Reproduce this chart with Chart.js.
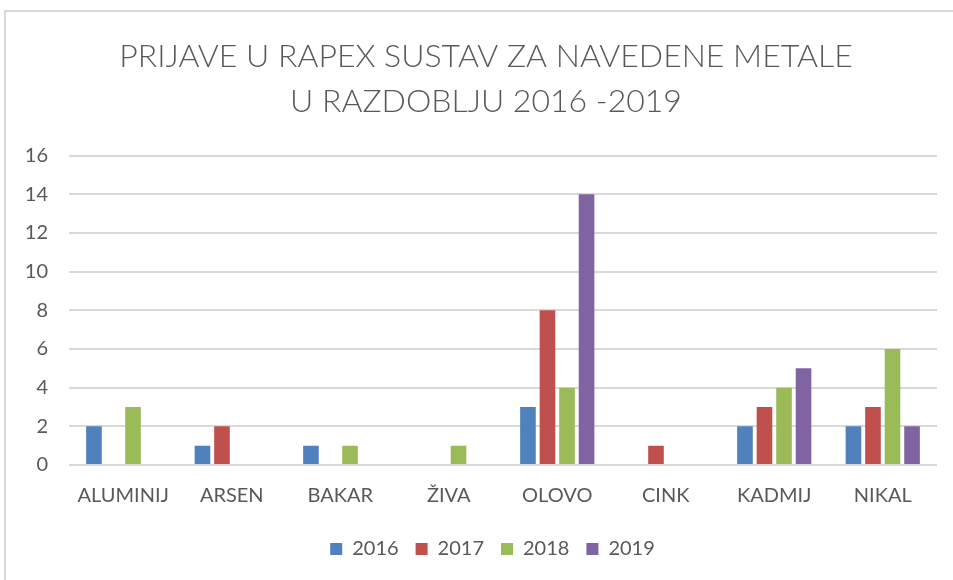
<!DOCTYPE html>
<html>
<head>
<meta charset="utf-8">
<script src="https://cdn.jsdelivr.net/npm/chart.js@4.4.1/dist/chart.umd.min.js"></script>
<style>
  html, body { margin: 0; padding: 0; background: #ffffff; }
  #wrap { position: relative; width: 953px; height: 580px; }
</style>
</head>
<body>
<div id="wrap"><canvas id="c" width="953" height="580"></canvas></div>
<script>
const categories = ['ALUMINIJ', 'ARSEN', 'BAKAR', 'ŽIVA', 'OLOVO', 'CINK', 'KADMIJ', 'NIKAL'];
const seriesNames = ['2016', '2017', '2018', '2019'];
const values2016 = [2, 1, 1, 0, 3, 0, 2, 2];
const values2017 = [0, 2, 0, 0, 8, 1, 3, 3];
const values2018 = [3, 0, 1, 1, 4, 0, 4, 6];
const values2019 = [0, 0, 0, 0, 14, 0, 5, 2];
const yTicks = [0, 2, 4, 6, 8, 10, 12, 14, 16];
const titleLines = ['PRIJAVE U RAPEX SUSTAV ZA NAVEDENE METALE', 'U RAZDOBLJU 2016 -2019'];

const colors = ['#4F81BD', '#C0504D', '#9BBB59', '#8064A2'];
const seriesValues = [values2016, values2017, values2018, values2019];
const FONT = 'Lato, "Open Sans", sans-serif';
const TEXT = '#595959';

const frame = {
  id: 'frame',
  afterLayout(chart) {
    // shift title and legend blocks so they are centred like the original
    if (chart.titleBlock) chart.titleBlock.left += 35;
    if (chart.legend) chart.legend.left += 48;
  },
  beforeDraw(chart) {
    const ctx = chart.ctx;
    ctx.save();
    ctx.fillStyle = '#ffffff';
    ctx.fillRect(0, 0, chart.width, chart.height);
    ctx.strokeStyle = '#d9d9d9';
    ctx.lineWidth = 2;
    ctx.beginPath();
    ctx.moveTo(5, chart.height);
    ctx.lineTo(5, 11);
    ctx.lineTo(chart.width, 11);
    ctx.stroke();
    ctx.restore();
  }
};

new Chart(document.getElementById('c'), {
  type: 'bar',
  data: {
    labels: categories,
    datasets: seriesNames.map((n, i) => ({
      label: n,
      data: seriesValues[i],
      backgroundColor: colors[i],
      borderWidth: 0,
      categoryPercentage: 0.72,
      barPercentage: 0.8
    }))
  },
  options: {
    responsive: false,
    animation: false,
    devicePixelRatio: 1,
    layout: { padding: { left: 0, right: 16, top: 0, bottom: 11 } },
    plugins: {
      title: {
        display: true,
        text: titleLines,
        color: TEXT,
        font: { family: FONT, size: 32, weight: '300', lineHeight: 1.42 },
        padding: { top: 34, bottom: 30.8 }
      },
      legend: {
        position: 'bottom',
        labels: {
          color: TEXT,
          font: { family: FONT, size: 20 },
          boxWidth: 12,
          boxHeight: 12,
          padding: 17
        }
      },
      tooltip: { enabled: false }
    },
    scales: {
      x: {
        grid: { display: false, drawTicks: false },
        border: { display: false },
        ticks: { color: TEXT, font: { family: FONT, size: 20 }, padding: 19, maxRotation: 0 },
        afterFit(scale) { scale.height = 57; }
      },
      y: {
        min: 0,
        max: 16,
        afterBuildTicks(scale) { scale.ticks = yTicks.map(v => ({ value: v })); },
        grid: { color: '#d9d9d9', lineWidth: 2, drawTicks: false },
        border: { display: false },
        ticks: { color: TEXT, font: { family: FONT, size: 20 }, padding: 21 },
        afterFit(scale) { scale.width = 69; }
      }
    }
  },
  plugins: [frame]
});
</script>
</body>
</html>
